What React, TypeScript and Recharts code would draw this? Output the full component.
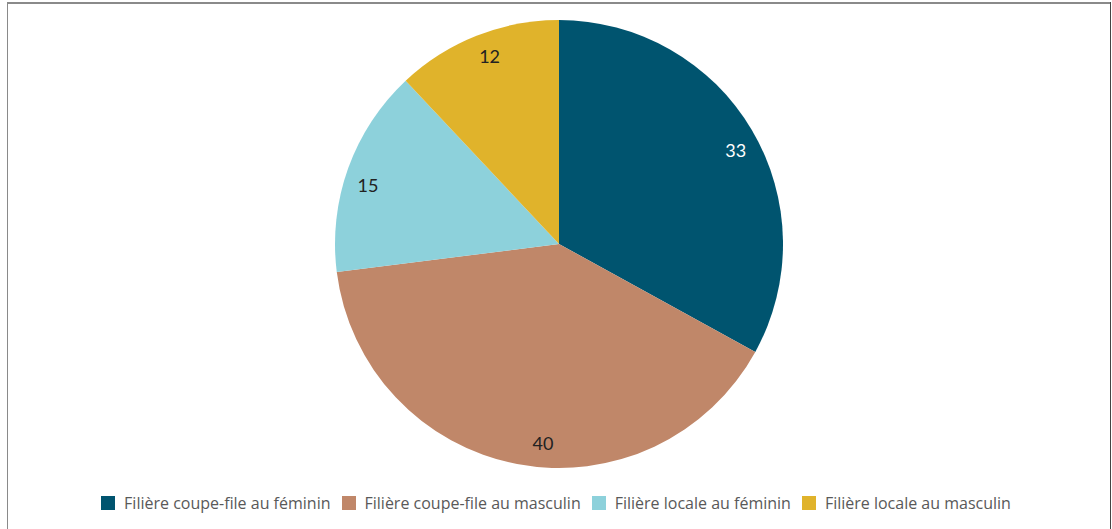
import React from "react";
import { PieChart, Pie, Cell, Legend } from "recharts";

const categories = [
  "Filière coupe-file au féminin",
  "Filière coupe-file au masculin",
  "Filière locale au féminin",
  "Filière locale au masculin",
];
const values = [33, 40, 15, 12];
const colors = ["#00546F", "#C08769", "#8DD1DB", "#E0B32B"];
const labelColors = ["#FFFFFF", "#222222", "#222222", "#222222"];
// small angular nudges (degrees) for label placement, mimicking the original's best-fit labels
const labelNudgeDeg = [-2.7, 6.2, 2.6, -1.3];

const data = categories.map((name, i) => ({ name, value: values[i] }));

const RADIAN = Math.PI / 180;

const renderLabel = (props: any) => {
  const { cx, cy, midAngle, outerRadius, index, value } = props;
  const r = outerRadius - 24;
  const a = midAngle + (labelNudgeDeg[index] || 0);
  const x = cx + r * Math.cos(-a * RADIAN);
  const y = cy + r * Math.sin(-a * RADIAN);
  return (
    <text
      x={x}
      y={y}
      fill={labelColors[index]}
      textAnchor="middle"
      dominantBaseline="central"
      style={{ fontFamily: "Lato, 'Noto Sans', sans-serif", fontSize: 18 }}
    >
      {value}
    </text>
  );
};

const renderLegend = (props: any) => {
  const { payload } = props;
  return (
    <div
      style={{
        display: "flex",
        justifyContent: "center",
        alignItems: "center",
        fontFamily: "'Open Sans', sans-serif",
        fontSize: 16,
        color: "#595959",
      }}
    >
      {(payload || []).map((p: any, i: number) => (
        <div key={i} style={{ display: "flex", alignItems: "center", marginRight: i < payload.length - 1 ? 11 : 0 }}>
          <span
            style={{
              display: "inline-block",
              width: 14,
              height: 14,
              background: p.color,
              marginRight: 9,
            }}
          />
          <span>{p.value}</span>
        </div>
      ))}
    </div>
  );
};

export default function App() {
  return (
    <div
      style={{
        position: "absolute",
        left: 0,
        top: 0,
        width: 1112,
        height: 529,
        background: "#fff",
        overflow: "hidden",
      }}
    >
      <div style={{ position: "absolute", left: 7, top: 2, width: 1104, height: 2, background: "#8a8a8a" }} />
      <div style={{ position: "absolute", left: 7, top: 2, width: 1, height: 540, background: "#8a8a8a" }} />
      <div style={{ position: "absolute", left: 1110, top: 2, width: 1, height: 540, background: "#444" }} />
      <PieChart width={1112} height={529} margin={{ top: 0, right: 0, bottom: 0, left: 0 }}>
        <Pie
          data={data}
          dataKey="value"
          nameKey="name"
          cx={559}
          cy={244}
          outerRadius={224}
          startAngle={90}
          endAngle={-270}
          stroke="none"
          label={renderLabel}
          labelLine={false}
          isAnimationActive={false}
        >
          {data.map((d, i) => (
            <Cell key={d.name} fill={colors[i]} />
          ))}
        </Pie>
        <Legend
          verticalAlign="bottom"
          align="center"
          content={renderLegend}
          wrapperStyle={{ bottom: 15 }}
        />
      </PieChart>
    </div>
  );
}
